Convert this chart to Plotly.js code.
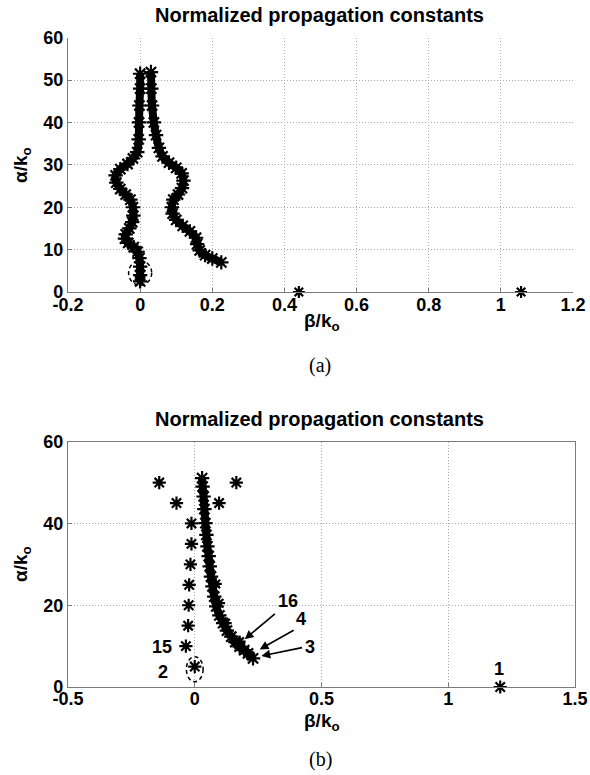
<!DOCTYPE html>
<html><head><meta charset="utf-8">
<script src="https://cdn.plot.ly/plotly-3.0.1.min.js"></script>
<style>html,body{margin:0;padding:0;background:#fff}#chart{width:590px;height:775px}</style>
</head><body><div id="chart"></div>
<script>
// ---- Panel (a) data ----
var aLeftX = [0,0,-0.002,-0.003,-0.004,-0.008,-0.02,-0.035,-0.055,-0.068,-0.066,-0.055,-0.04,-0.027,-0.02,-0.019,-0.022,-0.03,-0.04,-0.042,-0.033,-0.018,-0.007,-0.002,0,0,0];
var aLeftY = [51.5,48,44,40,36,33,31.5,30.2,29,27.5,25.8,24.3,23,21.8,20,18,16.5,15,13.6,12.6,11.6,10.6,9.5,8,6,4,2.5];
var aRightX = [0.030,0.031,0.033,0.038,0.044,0.052,0.062,0.08,0.1,0.115,0.12,0.116,0.105,0.092,0.088,0.09,0.1,0.118,0.138,0.155,0.158,0.165,0.18,0.2,0.225];
var aRightY = [51.9,48,44,40,37,34,32,30.5,29.3,28,26.3,24.5,23,21.8,20,18.5,17,15.6,14.3,12.8,11.3,9.8,8.7,7.9,7];
var aIsoX = [0.44, 1.056];
var aIsoY = [0, 0];
var aTickX = [-0.2, 0, 0.2, 0.4, 0.6, 0.8, 1, 1.2];
var aTickXText = ['-0.2', '0', '0.2', '0.4', '0.6', '0.8', '1', '1.2'];
var aTickY = [0, 10, 20, 30, 40, 50, 60];

// ---- Panel (b) data ----
var bCurveX = [0.029,0.031,0.035,0.038,0.042,0.046,0.050,0.055,0.059,0.064,0.070,0.077,0.085,0.097,0.112,0.127,0.144,0.160,0.177,0.195,0.21,0.23];
var bCurveY = [51.1,49,46.6,43.5,40.1,37.2,34.4,32,29.5,27,24.6,22.1,19.7,17.5,15.6,13.8,12.3,11,9.9,9,8.2,7.0];
var bEdgeX = [0.083, 0.096, 0.122, 0.177];
var bEdgeY = [25.2, 20.5, 15.6, 11.1];
var bIsoX = [-0.14, -0.072, 0.164, 0.096, -0.013, -0.013, -0.017, -0.022, -0.024, -0.026, -0.035, 0, 1.205];
var bIsoY = [50, 45, 50, 45, 40, 35, 30, 25, 20, 15, 10, 5, 0];
var bLabels = ['16', '4', '3', '15', '2', '1'];
var bLabelX = [0.366, 0.42, 0.453, -0.131, -0.125, 1.2];
var bLabelY = [21.1, 16.6, 9.7, 9.9, 3.6, 4.3];
var bArrowTailX = [0.322, 0.396, 0.429];
var bArrowTailY = [18.2, 14.1, 9.7];
var bArrowHeadX = [0.197, 0.256, 0.263];
var bArrowHeadY = [11.7, 9.2, 7.6];
var bTickX = [-0.5, 0, 0.5, 1, 1.5];
var bTickXText = ['-0.5', '0', '0.5', '1', '1.5'];
var bTickY = [0, 20, 40, 60];

var titleText = 'Normalized propagation constants';
var xLabel = '<b>β/k<sub>o</sub></b>';
var yLabel = '<b>α/k<sub>o</sub></b>';

var ARIAL = 'Arial, "Liberation Sans", sans-serif';
var TIMES = '"Times New Roman", "Liberation Serif", serif';

function bold(arr){ return arr.map(function(s){ return '<b>' + s + '</b>'; }); }
function star(size){ return {symbol:'asterisk-open', size:size, color:'#000', line:{color:'#000', width:2.2}}; }
function band(x, y, xa, ya){
  return {x:x, y:y, xaxis:xa, yaxis:ya, mode:'lines+markers', type:'scatter',
    line:{color:'#000', width:8, shape:'spline', smoothing:0.6}, marker:star(12), hoverinfo:'skip', showlegend:false};
}
var traces = [
  band(aLeftX, aLeftY, 'x', 'y'),
  band(aRightX, aRightY, 'x', 'y'),
  {x:aIsoX, y:aIsoY, xaxis:'x', yaxis:'y', mode:'markers', type:'scatter', marker:star(10), cliponaxis:false, showlegend:false},
  band(bCurveX, bCurveY, 'x2', 'y2'),
  {x:bEdgeX, y:bEdgeY, xaxis:'x2', yaxis:'y2', mode:'markers', type:'scatter', marker:star(10), showlegend:false},
  {x:bIsoX, y:bIsoY, xaxis:'x2', yaxis:'y2', mode:'markers', type:'scatter', marker:star(11), cliponaxis:false, showlegend:false}
];

var tickFont = {family:ARIAL, size:18, color:'#000'};
function axisCommon(extra){
  var o = {showgrid:true, gridcolor:'#a8a8a8', griddash:'1px,2px', gridwidth:1, zeroline:false,
    showline:true, linecolor:'#7a7a7a', linewidth:1.2, ticks:'inside', ticklen:4, tickcolor:'#7a7a7a',
    tickfont:tickFont, fixedrange:true, tickmode:'array'};
  for (var k in extra) o[k] = extra[k];
  return o;
}

var annotations = [];
function paperText(text, x, y, font, angle){
  annotations.push({text:text, x:x, y:y, xref:'paper', yref:'paper', showarrow:false,
    xanchor:'center', yanchor:'middle', font:font, textangle:angle||0});
}
var titleFont = {family:ARIAL, size:20, color:'#000'};
var labFont = {family:ARIAL, size:19, color:'#000'};
var capFont = {family:TIMES, size:20, color:'#000'};
paperText('<b>' + titleText + '</b>', 319/590, 1-15/775, titleFont);
paperText('<b>' + titleText + '</b>', 319/590, 1-419/775, titleFont);
paperText(xLabel, 322/590, 1-322/775, labFont);
paperText(xLabel, 322/590, 1-722/775, labFont);
paperText(yLabel, 22/590, 1-165/775, labFont, -90);
paperText(yLabel, 22/590, 1-564/775, labFont, -90);
paperText('(a)', 320/590, 1-365/775, capFont);
paperText('(b)', 320/590, 1-759/775, capFont);

for (var i = 0; i < bLabels.length; i++){
  annotations.push({text:'<b>' + bLabels[i] + '</b>', x:bLabelX[i], y:bLabelY[i], xref:'x2', yref:'y2', showarrow:false,
    xanchor:'center', yanchor:'middle', font:{family:ARIAL, size:18, color:'#000'}});
}
for (var j = 0; j < bArrowTailX.length; j++){
  annotations.push({text:'', x:bArrowHeadX[j], y:bArrowHeadY[j], ax:bArrowTailX[j], ay:bArrowTailY[j],
    xref:'x2', yref:'y2', axref:'x2', ayref:'y2', showarrow:true, arrowhead:2, arrowsize:1.1, arrowwidth:1.6, arrowcolor:'#000'});
}

var shapes = [
  {type:'circle', layer:'above', xref:'x', yref:'y', x0:-0.032, x1:0.032, y0:1.6, y1:7.4, line:{color:'#000', width:1.5, dash:'4px,3px'}},
  {type:'circle', layer:'above', xref:'x2', yref:'y2', x0:-0.033, x1:0.033, y0:1.3, y1:7.4, line:{color:'#000', width:1.5, dash:'4px,3px'}}
];

var layout = {
  width:590, height:775, margin:{l:0, r:0, t:0, b:0},
  paper_bgcolor:'#fff', plot_bgcolor:'#fff', showlegend:false,
  xaxis: axisCommon({domain:[68/590, 573/590], range:[-0.2, 1.2], tickvals:aTickX, ticktext:bold(aTickXText), anchor:'y', mirror:false, ticklabelstandoff:-4}),
  yaxis: axisCommon({domain:[1-292/775, 1-37.7/775], range:[0, 60], tickvals:aTickY, ticktext:bold(aTickY.map(String)), anchor:'x', mirror:false}),
  xaxis2: axisCommon({domain:[68/590, 575/590], range:[-0.5, 1.5], tickvals:bTickX, ticktext:bold(bTickXText), anchor:'y2', mirror:true, ticklabelstandoff:-5}),
  yaxis2: axisCommon({domain:[1-687/775, 1-441.7/775], range:[0, 60], tickvals:bTickY, ticktext:bold(bTickY.map(String)), anchor:'x2', mirror:true}),
  annotations:annotations, shapes:shapes
};
Plotly.newPlot('chart', traces, layout, {staticPlot:true, displayModeBar:false});
</script></body></html>
